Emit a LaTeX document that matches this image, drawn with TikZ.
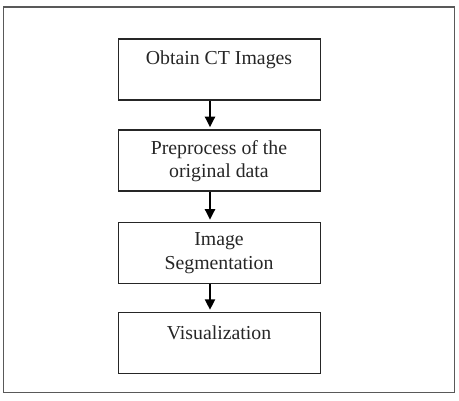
\documentclass[tikz,border=0pt]{standalone}
\usepackage{fontspec}
\setmainfont{Liberation Serif}
\usetikzlibrary{arrows.meta}
\begin{document}
\begin{tikzpicture}[x=1pt,y=-1pt,
  frame/.style={draw=black!65,line width=1.3pt},
  stepbox/.style={draw=black!85,line width=1.4pt,minimum width=202.5pt,minimum height=61pt,inner sep=0pt,anchor=north west},
  boxtext/.style={font=\fontsize{19.8pt}{23.4pt}\selectfont,align=center,inner sep=0pt,text=black!85},
  flow/.style={draw=black,line width=2pt,-{Triangle[length=10.5pt,width=10pt]},shorten >=2pt}]
\useasboundingbox (0,0) rectangle (459,400);
\draw[frame] (3.5,7) rectangle (454.3,392.7);
\node[stepbox] (b1) at (117.5,38.2) {};
\node[stepbox] (b2) at (117.5,129.2) {};
\node[stepbox] (b3) at (117.5,221.7) {};
\node[stepbox] (b4) at (117.5,311.8) {};
\node[boxtext] (t1) at (219,60) {Obtain CT Images};
\node[boxtext] (t2) at (219,161) {Preprocess of the\\original data};
\node[boxtext] (t3) at (219,253) {Image\\Segmentation};
\node[boxtext] (t4) at (219,332.5) {Visualization};
\coordinate (a1s) at (210,0);
\draw[flow] (b1.south -| a1s) -- (b2.north -| a1s);
\draw[flow] (b2.south -| a1s) -- (b3.north -| a1s);
\draw[flow] (b3.south -| a1s) -- (b4.north -| a1s);
\end{tikzpicture}
\end{document}
